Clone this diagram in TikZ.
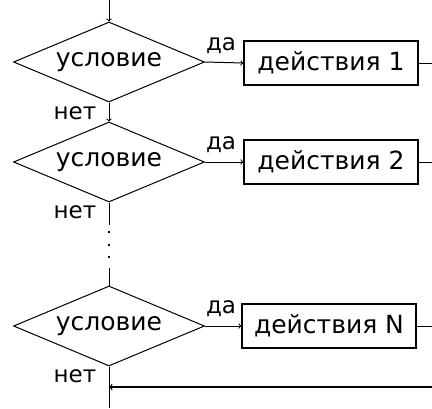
\documentclass[tikz,border=0pt]{standalone}
\usepackage{fontspec}
\setmainfont{DejaVu Sans}
\usetikzlibrary{shapes.geometric}

\begin{document}
\begin{tikzpicture}[x=1pt,y=-1pt,line width=1pt,>=to,
	cond/.style={draw,shape=diamond,aspect=2.4,inner sep=0pt,minimum width=191pt,minimum height=80pt,font=\fontsize{25}{28}\selectfont},
	act/.style={draw,rectangle,inner sep=0pt,line width=1.3pt,minimum width=174pt,minimum height=44pt,font=\fontsize{25}{28}\selectfont},
	lbl/.style={inner sep=0pt,font=\fontsize{23}{26}\selectfont}]
	\useasboundingbox (0,0) rectangle (432,408);
	% Shapes
	\node[cond] (cond1) at (109,62) {условие};
	\node[cond] (cond2) at (109,162) {условие};
	\node[cond] (condN) at (109,326) {условие};
	\node[act] (act1) at (331,63) {действия 1};
	\node[act] (act2) at (331,162) {действия 2};
	\node[act] (actN) at (329,326) {действия N};
	% Labels
	\node[lbl] (yes1) at (221,46) {да};
	\node[lbl] (yes2) at (221,145) {да};
	\node[lbl] (yesN) at (221,309) {да};
	\node[lbl] (no1) at (75,113) {нет};
	\node[lbl] (no2) at (75,212) {нет};
	\node[lbl] (noN) at (75,376) {нет};
	% Points
	\coordinate (start) at (109,0);
	\coordinate (out1) at (432,63);
	\coordinate (out2) at (432,162);
	\coordinate (outN) at (432,326);
	\coordinate (gap1) at (109,225);
	\coordinate (dots1) at (109,231);
	\coordinate (dots2) at (109,259);
	\coordinate (gap2) at (109,268);
	\coordinate (back) at (432,387);
	\coordinate (stop) at (109,408);
	% Lines
	\draw[->] (start) -- (cond1.north);
	\draw[->] (cond1.east) -- (act1.west);
	\draw (act1.east) -- (out1);
	\draw[->] (cond1.south) -- (cond2.north);
	\draw[->] (cond2.east) -- (act2.west);
	\draw (act2.east) -- (out2);
	\draw (cond2.south) -- (gap1);
	\draw[line width=1.5pt,dash pattern=on 2pt off 10.5pt] (dots1) -- (dots2);
	\draw (gap2) -- (condN.north);
	\draw[->] (condN.east) -- (actN.west);
	\draw (actN.east) -- (outN);
	\draw (condN.south) -- (stop);
	\draw[->,line width=1.3pt] (back) -- (back -| stop);
\end{tikzpicture}
\end{document}
